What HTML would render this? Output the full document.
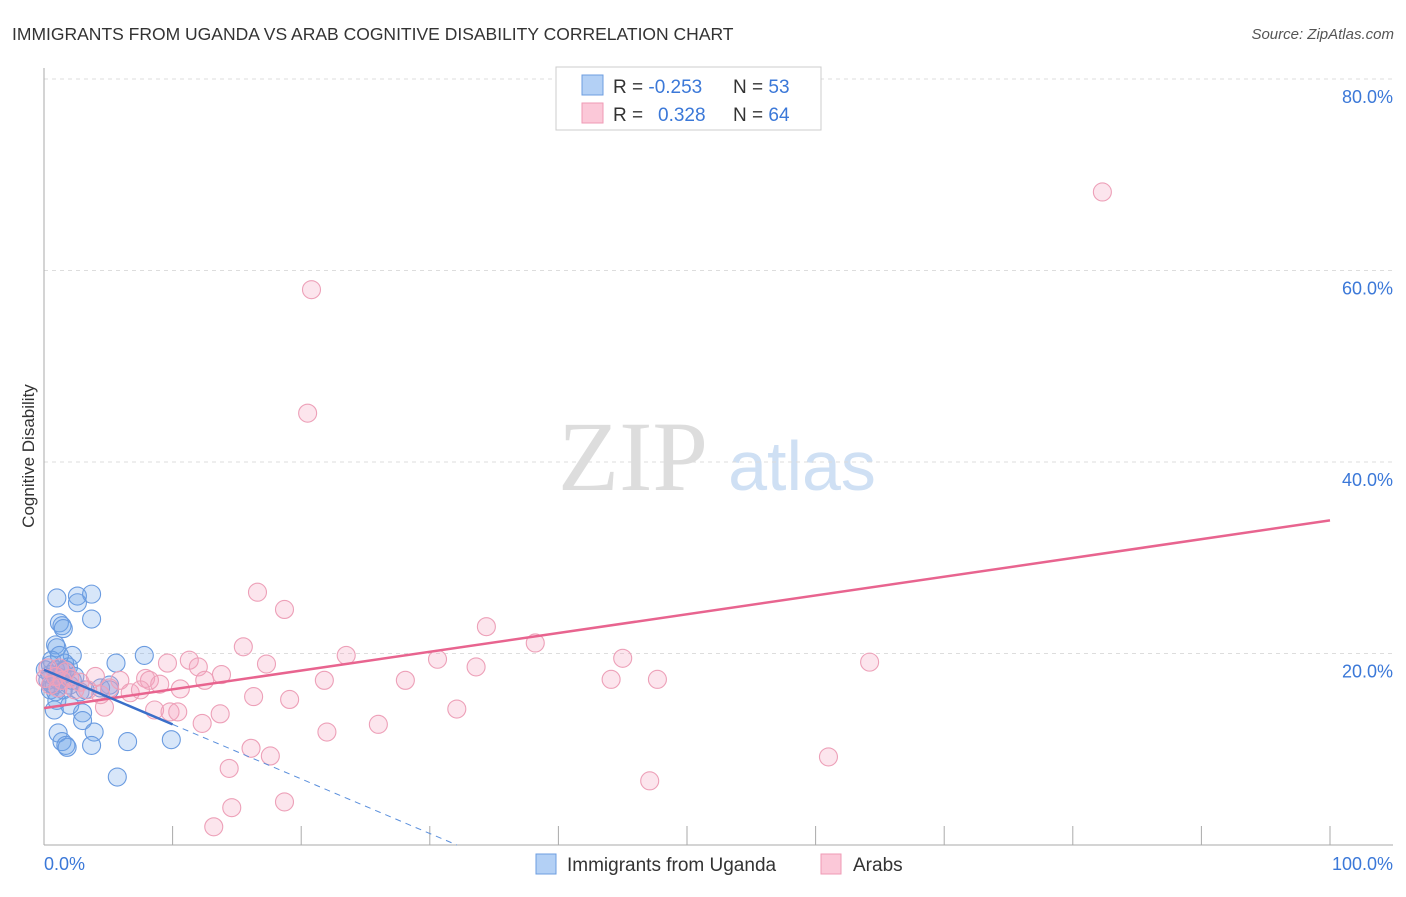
<!DOCTYPE html>
<html><head><meta charset="utf-8"><style>
body{margin:0;background:#fff;font-family:"Liberation Sans",sans-serif}
svg text{font-family:"Liberation Sans",sans-serif}
</style></head><body>
<svg id="chart" width="1406" height="892" viewBox="0 0 1406 892" xmlns="http://www.w3.org/2000/svg">
<text x="12" y="40" font-size="17.5" fill="#333">IMMIGRANTS FROM UGANDA VS ARAB COGNITIVE DISABILITY CORRELATION CHART</text>
<text x="1394" y="39" font-size="15" fill="#555" text-anchor="end" font-style="italic">Source: ZipAtlas.com</text>
<g>
<text x="633" y="490" font-size="100" fill="#ddd" text-anchor="middle" style="font-family:'Liberation Serif',serif">ZIP</text>
<text x="802" y="490" font-size="70" fill="#cfe0f4" text-anchor="middle">atlas</text>
</g>
<g id="grid"></g>
<g id="axes"></g>
<text transform="translate(34,456) rotate(-90)" font-size="17" fill="#333" text-anchor="middle">Cognitive Disability</text>
<g id="marks"></g>
<g>
<rect x="556" y="67" width="265" height="63" fill="#fff" stroke="#ccc"/>
<rect x="582" y="75" width="21" height="20" fill="#b3d0f5" stroke="#6d9ee0"/>
<rect x="582" y="103" width="21" height="20" fill="#fbc8d8" stroke="#ef9ab5"/>
<text x="613" y="93" font-size="19" fill="#333">R = <tspan fill="#3b78d8">-0.253</tspan><tspan x="733">N = </tspan><tspan fill="#3b78d8">53</tspan></text>
<text x="613" y="121" font-size="19" fill="#333">R = <tspan x="658" fill="#3b78d8">0.328</tspan><tspan x="733">N = </tspan><tspan fill="#3b78d8">64</tspan></text>
</g>
<g>
<rect x="536" y="854" width="20" height="20" fill="#b3d0f5" stroke="#6d9ee0"/>
<text x="567" y="871" font-size="19" fill="#333">Immigrants from Uganda</text>
<rect x="821" y="854" width="20" height="20" fill="#fbc8d8" stroke="#ef9ab5"/>
<text x="853" y="871" font-size="19" fill="#333">Arabs</text>
</g>
</svg>
<script>
const yTicks=[20,40,60,80];
const yTickLabels=["20.0%","40.0%","60.0%","80.0%"];
const xLabels=["0.0%","100.0%"];
const blueX=[1.0,2.6,3.7,2.6,3.7,1.2,1.4,1.5,0.9,1.0,7.8,5.6,2.2,0.6,1.6,1.9,0.9,0.5,1.2,0.6,2.0,1.5,0.5,2.8,5.1,1.0,2.0,0.8,3.0,3.0,3.9,1.1,1.4,1.7,1.8,3.7,6.5,9.9,5.7,0.1,0.3,5.1,4.4,0.9,2.2,3.2,0.5,1.2,1.7,0.8,1.1,2.4,1.4];
const blueY=[25.8,26.0,26.2,25.3,23.6,23.2,22.9,22.6,20.9,20.6,19.8,19.0,19.8,19.3,19.0,18.6,18.3,17.8,17.5,16.8,16.7,16.2,16.2,16.0,16.7,15.1,14.6,14.1,13.8,13.0,11.8,11.7,10.8,10.4,10.2,10.4,10.8,11.0,7.1,18.3,17.2,16.2,16.4,16.0,17.2,16.2,18.8,19.8,18.3,16.7,17.2,17.6,18.1];
const pinkX=[82.3,20.8,20.5,16.6,18.7,34.4,38.2,15.5,23.5,9.6,11.3,12.0,17.3,30.6,45.0,33.6,64.2,13.8,12.5,21.8,28.1,44.1,47.7,4.0,5.9,7.9,8.2,9.0,10.6,5.1,6.7,16.3,19.1,4.7,8.6,9.8,10.4,13.7,32.1,12.3,26.0,22.0,16.1,17.6,61.0,14.4,47.1,14.6,18.7,13.2,0.5,0.9,1.4,2.0,2.8,3.4,1.2,1.7,0.1,0.3,2.4,4.4,1.1,7.5];
const pinkY=[68.2,58.0,45.1,26.4,24.6,22.8,21.1,20.7,19.8,19.0,19.3,18.6,18.9,19.4,19.5,18.6,19.1,17.8,17.2,17.2,17.2,17.3,17.3,17.6,17.2,17.4,17.2,16.8,16.3,16.4,15.9,15.5,15.2,14.4,14.1,13.9,13.9,13.7,14.2,12.7,12.6,11.8,10.1,9.3,9.2,8.0,6.7,3.9,4.5,1.9,16.7,17.6,17.2,17.4,17.0,16.2,18.5,18.1,17.4,18.5,16.2,15.7,16.4,16.2];
const blueTrend=[18.3,-0.57];
const pinkTrend=[14.3,0.196];
const NS="http://www.w3.org/2000/svg";
const X=v=>44+v*12.86, Y=v=>845-v*9.575;
function mk(t,a,p){const e=document.createElementNS(NS,t);for(const k in a)e.setAttribute(k,a[k]);p.appendChild(e);return e;}
const grid=document.getElementById('grid'),axes=document.getElementById('axes'),marks=document.getElementById('marks');
yTicks.forEach((t,i)=>{
 const l=mk('line',{x1:44,x2:1393,y1:Y(t),y2:Y(t),stroke:'#ddd','stroke-dasharray':'4,4'},grid);
 
 
 const tx=mk('text',{x:1393,y:Y(t)+24,'font-size':18,fill:'#3b78d8','text-anchor':'end'},axes);
 tx.textContent=yTickLabels[i];
 
 
});
let a=mk('line',{x1:44,x2:44,y1:68,y2:845,stroke:'#aaa'},axes);


a=mk('line',{x1:44,x2:1393,y1:845,y2:845,stroke:'#aaa'},axes);


for(let i=1;i<=10;i++){const t=mk('line',{x1:X(i*10),x2:X(i*10),y1:826,y2:845,stroke:'#aaa'},axes);
 
 }
let xl=mk('text',{x:44,y:870,'font-size':18,fill:'#3b78d8'},axes);xl.textContent=xLabels[0];


xl=mk('text',{x:1393,y:870,'font-size':18,fill:'#3b78d8','text-anchor':'end'},axes);xl.textContent=xLabels[1];


blueX.forEach((x,i)=>{const c=mk('circle',{cx:X(x),cy:Y(blueY[i]),r:9,fill:'rgba(110,165,235,0.28)',stroke:'#6a9be0','stroke-width':1.1},marks);
 
 });
pinkX.forEach((x,i)=>{const c=mk('circle',{cx:X(x),cy:Y(pinkY[i]),r:9,fill:'rgba(245,160,190,0.28)',stroke:'#eda0b8','stroke-width':1.1},marks);
 
 });
const by=x=>blueTrend[0]+blueTrend[1]*x, py=x=>pinkTrend[0]+pinkTrend[1]*x;
let t=mk('line',{x1:X(0),y1:Y(py(0)),x2:X(100),y2:Y(py(100)),stroke:'#e8648f','stroke-width':2.5},marks);


t=mk('line',{x1:X(0),y1:Y(by(0)),x2:X(10),y2:Y(by(10)),stroke:'#3a6fc9','stroke-width':2.5},marks);


const x0=-blueTrend[0]/blueTrend[1];
t=mk('line',{x1:X(10),y1:Y(by(10)),x2:X(x0),y2:Y(0),stroke:'#5a8fdc','stroke-width':1,'stroke-dasharray':'6,5'},marks);


</script>
</body></html>
